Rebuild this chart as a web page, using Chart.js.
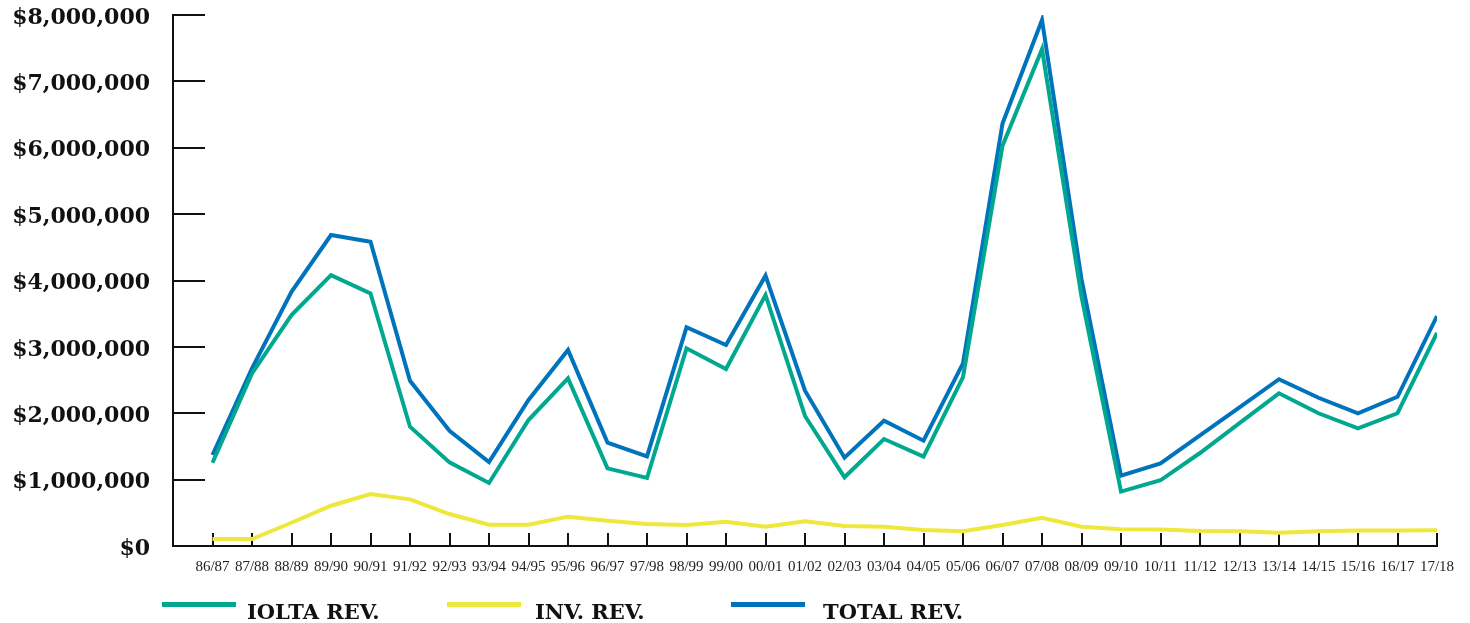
<!DOCTYPE html>
<html>
<head>
<meta charset="utf-8">
<script src="https://cdn.jsdelivr.net/npm/chart.js@4/dist/chart.umd.min.js"></script>
<style>
  body { margin: 0; background: #fff; }
  canvas { display: block; }
</style>
</head>
<body>
<canvas id="myChart" width="1470" height="623"></canvas>
<script>
// fiscal years
var years = ['86/87', '87/88', '88/89', '89/90', '90/91', '91/92', '92/93', '93/94', '94/95', '95/96',
  '96/97', '97/98', '98/99', '99/00', '00/01', '01/02', '02/03', '03/04', '04/05', '05/06',
  '06/07', '07/08', '08/09', '09/10', '10/11', '11/12', '12/13', '13/14', '14/15', '15/16',
  '16/17', '17/18'];

var ioltaRev = [1255000, 2600000, 3480000, 4080000, 3805000, 1797000, 1260000, 950000, 1898000, 2526000,
  1170000, 1025000, 2978000, 2667000, 3782000, 1959000, 1035000, 1612000, 1346000, 2545000,
  6031000, 7485000, 3756000, 820000, 990000, 1401000, 1852000, 2300000, 2000000, 1772000,
  2000000, 3210000];

var invRev = [105000, 105000, 350000, 607000, 783000, 703000, 482000, 321000, 321000, 442000,
  382000, 331000, 316000, 366000, 291000, 372000, 301000, 291000, 241000, 221000,
  316000, 425000, 291000, 254000, 249000, 227000, 222000, 200000, 222000, 233000,
  233000, 238000];

var totalRev = [1371000, 2677000, 3830000, 4685000, 4585000, 2490000, 1737000, 1266000, 2200000, 2953000,
  1557000, 1350000, 3295000, 3028000, 4073000, 2340000, 1331000, 1888000, 1587000, 2752000,
  6364000, 7925000, 4021000, 1058000, 1243000, 1666000, 2090000, 2513000, 2233000, 2000000,
  2248000, 3465000];

var seriesNames = ['IOLTA REV.', 'INV. REV.', 'TOTAL REV.'];
var seriesColors = ['#00A88F', '#EDE83B', '#0073BD'];
var yTicks = [0, 1000000, 2000000, 3000000, 4000000, 5000000, 6000000, 7000000, 8000000];

function points(arr) {
  return arr.map(function (v, i) { return { x: i, y: v }; });
}

// short tick marks pointing into the plot
var innerTicks = {
  id: 'innerTicks',
  beforeDatasetsDraw: function (chart) {
    var ctx = chart.ctx;
    var xs = chart.scales.x, ys = chart.scales.y;
    var area = chart.chartArea;
    ctx.save();
    ctx.strokeStyle = '#111';
    ctx.lineWidth = 2;
    ctx.beginPath();
    yTicks.forEach(function (v) {
      if (v === 0) return;
      var y = Math.round(ys.getPixelForValue(v));
      ctx.moveTo(area.left, y);
      ctx.lineTo(area.left + 32, y);
    });
    years.forEach(function (lab, i) {
      var x = Math.round(xs.getPixelForValue(i));
      ctx.moveTo(x, area.bottom);
      ctx.lineTo(x, area.bottom - 13);
    });
    ctx.stroke();
    ctx.restore();
  }
};

// legend under the axis
var lineLegend = {
  id: 'lineLegend',
  afterDraw: function (chart) {
    var ctx = chart.ctx;
    var lineX = [162, 447, 731];
    var textX = [247, 535, 823];
    ctx.save();
    ctx.font = 'bold 21px "DejaVu Serif"';
    ctx.textBaseline = 'alphabetic';
    chart.data.datasets.forEach(function (ds, i) {
      ctx.fillStyle = ds.borderColor;
      ctx.fillRect(lineX[i], 602, 74, 5);
      ctx.fillStyle = '#111';
      ctx.fillText(ds.label, textX[i], 619);
    });
    ctx.restore();
  }
};

var ctx = document.getElementById('myChart').getContext('2d');
var chart = new Chart(ctx, {
  type: 'line',
  data: {
    datasets: [
      { label: seriesNames[0], data: points(ioltaRev), borderColor: seriesColors[0], backgroundColor: seriesColors[0] },
      { label: seriesNames[1], data: points(invRev), borderColor: seriesColors[1], backgroundColor: seriesColors[1] },
      { label: seriesNames[2], data: points(totalRev), borderColor: seriesColors[2], backgroundColor: seriesColors[2] }
    ]
  },
  options: {
    responsive: false,
    animation: false,
    layout: { autoPadding: false, padding: { left: 0, top: 15, right: 33, bottom: 0 } },
    elements: {
      line: { borderWidth: 4, tension: 0, borderJoinStyle: 'miter' },
      point: { radius: 0, hoverRadius: 0 }
    },
    plugins: {
      legend: { display: false },
      tooltip: { enabled: false }
    },
    scales: {
      x: {
        type: 'linear',
        min: -1,
        max: 31,
        grid: { display: false, drawTicks: false },
        border: { display: true, color: '#111', width: 2 },
        ticks: {
          stepSize: 1,
          autoSkip: false,
          maxRotation: 0,
          padding: 12,
          color: '#222',
          font: { family: '"Liberation Serif"', size: 15 },
          callback: function (v) { return years[v] || ''; }
        },
        afterFit: function (s) {
          s.height = 77;
          s.paddingLeft = 0; s.paddingRight = 0;
        }
      },
      y: {
        min: 0,
        max: 8000000,
        grid: { display: false, drawTicks: false },
        border: { display: true, color: '#111', width: 2 },
        afterBuildTicks: function (s) {
          s.ticks = yTicks.map(function (v) { return { value: v }; });
        },
        ticks: {
          padding: 23,
          labelOffset: 3,
          color: '#111',
          font: { family: '"DejaVu Serif"', size: 22, weight: 'bold' },
          callback: function (v) { return '$' + v.toLocaleString('en-US'); }
        },
        afterFit: function (s) {
          s.width = 173;
          s.paddingTop = 0; s.paddingBottom = 0;
        }
      }
    }
  },
  plugins: [innerTicks, lineLegend]
});
</script>
</body>
</html>
